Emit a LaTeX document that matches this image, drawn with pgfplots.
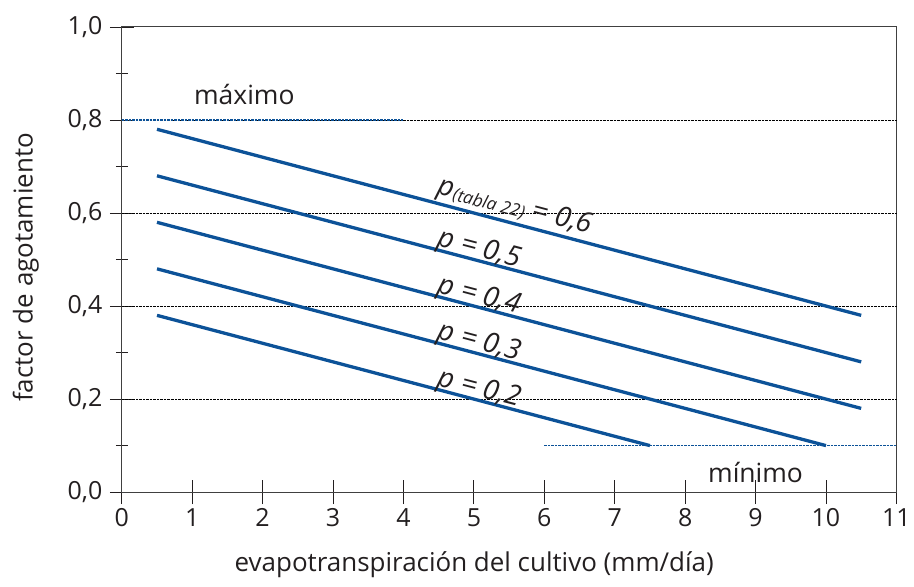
\documentclass[border=0pt]{standalone}
\usepackage{pgfplots}
\pgfplotsset{compat=1.18}
\usepackage{fontspec}
\setmainfont{Open Sans}
\definecolor{lblue}{RGB}{12,82,152}
\definecolor{txt}{RGB}{35,31,32}
\begin{document}
\begin{tikzpicture}
\begin{axis}[
  name=ax,
  scale only axis,
  width=776pt, height=466pt,
  xmin=0, xmax=11, ymin=0, ymax=1,
  xtick={0,1,...,11},
  ytick={0,0.2,0.4,0.6,0.8,1.0},
  minor ytick={0.1,0.3,0.5,0.7,0.9},
  xtick pos=bottom, ytick pos=left,
  tick align=center,
  major tick length=24pt,
  minor tick length=12pt,
  tick style={txt, line width=0.8pt},
  extra y ticks={0.2,0.4,0.6,0.8},
  extra y tick labels={},
  extra y tick style={ymajorgrids=true, major tick length=0pt},
  major grid style={black, densely dotted, line width=0.6pt},
  axis line style={draw=black!75, line width=1pt},
  /pgf/number format/assume math mode=true,
  yticklabel style={/pgf/number format/fixed, /pgf/number format/fixed zerofill, /pgf/number format/precision=1, /pgf/number format/use comma, xshift=-4pt},
  ticklabel style={font=\fontsize{25}{29}\selectfont, text=txt},
  xticklabel style={yshift=-1pt},
  xlabel={evapotranspiración del cultivo (mm/día)},
  ylabel={factor de agotamiento},
  xlabel style={at={(axis description cs:0.455,-0.157)}, anchor=center, font=\fontsize{26}{30}\selectfont, text=txt},
  ylabel style={at={(axis description cs:-0.124,0.483)}, anchor=center, rotate=0, font=\fontsize{26}{30}\selectfont, text=txt},
  clip=false,
]
\addplot[lblue, dash pattern=on 2.5pt off 1pt, line width=1.2pt] coordinates {(0,0.8) (4,0.8)};
\addplot[lblue, dash pattern=on 2.5pt off 1pt, line width=1.2pt] coordinates {(6,0.1) (11,0.1)};
\addplot[lblue, line width=3.3pt] coordinates {(0.5,0.78) (10.5,0.38)};
\addplot[lblue, line width=3.3pt] coordinates {(0.5,0.68) (10.5,0.28)};
\addplot[lblue, line width=3.3pt] coordinates {(0.5,0.58) (10.5,0.18)};
\addplot[lblue, line width=3.3pt] coordinates {(0.5,0.48) (10,0.10)};
\addplot[lblue, line width=3.3pt] coordinates {(0.5,0.38) (7.5,0.10)};
\node[anchor=base west, rotate=-14.8, inner sep=0pt, text=txt, font=\fontsize{28}{31}\selectfont\itshape] at (axis cs:4.47,0.642) {p\raisebox{-0.15ex}{\fontsize{17.5}{19}\selectfont (tabla 22)} = 0,6};
\node[anchor=base west, rotate=-14.8, inner sep=0pt, text=txt, font=\fontsize{28}{31}\selectfont\itshape] at (axis cs:4.47,0.530) {p = 0,5};
\node[anchor=base west, rotate=-14.8, inner sep=0pt, text=txt, font=\fontsize{28}{31}\selectfont\itshape] at (axis cs:4.47,0.430) {p = 0,4};
\node[anchor=base west, rotate=-14.8, inner sep=0pt, text=txt, font=\fontsize{28}{31}\selectfont\itshape] at (axis cs:4.47,0.330) {p = 0,3};
\node[anchor=base west, rotate=-14.8, inner sep=0pt, text=txt, font=\fontsize{28}{31}\selectfont\itshape] at (axis cs:4.47,0.230) {p = 0,2};
\node[text=txt, font=\fontsize{26.5}{30}\selectfont] at (axis cs:1.74,0.854) {máximo};
\node[text=txt, font=\fontsize{26.5}{30}\selectfont] at (axis cs:9.0,0.043) {mínimo};
\end{axis}
\path (ax.south west) ++(-122pt,-95pt) coordinate (bl);
\path (ax.north east) ++(16pt,27pt) coordinate (tr);
\useasboundingbox (bl) rectangle (tr);
\end{tikzpicture}
\end{document}
